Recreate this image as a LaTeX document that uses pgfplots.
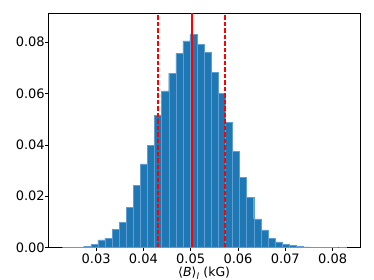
\documentclass[border=0pt]{standalone}
\usepackage{pgfplots}
\pgfplotsset{compat=1.18}
\usepackage{fontspec}
\setmainfont{DejaVu Sans}
\definecolor{c0}{HTML}{1F77B4}
\definecolor{edgec}{HTML}{5E9ED3}
\definecolor{mplred}{HTML}{FF0000}
\pgfplotstableread{
x y
0.02365 0.00000
0.02515 0.00005
0.02664 0.00010
0.02814 0.00050
0.02964 0.00110
0.03114 0.00290
0.03263 0.00360
0.03413 0.00690
0.03563 0.00970
0.03713 0.01570
0.03862 0.02430
0.04012 0.03250
0.04162 0.03970
0.04312 0.05140
0.04461 0.06100
0.04611 0.06790
0.04761 0.07580
0.04911 0.08050
0.05060 0.08300
0.05210 0.07920
0.05360 0.07600
0.05510 0.06820
0.05659 0.06020
0.05809 0.04880
0.05959 0.03730
0.06109 0.02740
0.06258 0.01960
0.06408 0.01110
0.06558 0.00680
0.06707 0.00360
0.06857 0.00210
0.07007 0.00120
0.07157 0.00070
0.07306 0.00030
0.07456 0.00015
0.07606 0.00010
0.07756 0.00005
0.07905 0.00002
0.08055 0.00000
0.08205 0.00001
}\histdata
\begin{document}
\fontsize{13}{16}\selectfont
\begin{tikzpicture}
\begin{axis}[
  at={(0,0)}, anchor=south west,
  scale only axis, width=311.7pt, height=234pt,
  xmin=0.0199, xmax=0.0858, ymin=0, ymax=0.0913,
  axis line style={black, line width=0.5pt},
  tick align=outside, major tick length=3.5pt,
  tick style={black, line width=0.5pt},
  xtick={0.03,0.04,0.05,0.06,0.07,0.08},
  ytick={0,0.02,0.04,0.06,0.08},
  xtick pos=bottom, ytick pos=left,
  scaled ticks=false,
  every tick label/.append style={font=\fontsize{13}{16}\selectfont},
  yticklabel style={xshift=4.5pt},
  xticklabel style={yshift=1pt},
  label style={font=\fontsize{12.5}{15}\selectfont},
  /pgf/number format/assume math mode=true,
  /pgf/number format/fixed,
  /pgf/number format/fixed zerofill,
  /pgf/number format/precision=2,
  xlabel={⟨\textit{B}⟩\textsubscript{\textit{l}} (kG)},
  xlabel style={at={(axis description cs:0.5,0)}, anchor=base, yshift=-29.5pt, inner sep=0pt},
]
\addplot[ybar, bar width=0.0014975, fill=c0, draw=edgec, line width=0.4pt] table[x=x, y=y] {\histdata};
\addplot[color=mplred, line width=1.9pt, mark=none, solid] coordinates {(0.0502,0) (0.0502,0.0913)};
\addplot[color=mplred, line width=1.5pt, mark=none, dash pattern=on 4.5pt off 2pt] coordinates {(0.0431,0) (0.0431,0.0913)};
\addplot[color=mplred, line width=1.5pt, mark=none, dash pattern=on 4.5pt off 2pt] coordinates {(0.0573,0) (0.0573,0.0913)};
\end{axis}
\pgfresetboundingbox
\useasboundingbox (-48.3pt,-32.7pt) rectangle (325.7pt,247.3pt);
\end{tikzpicture}
\end{document}
